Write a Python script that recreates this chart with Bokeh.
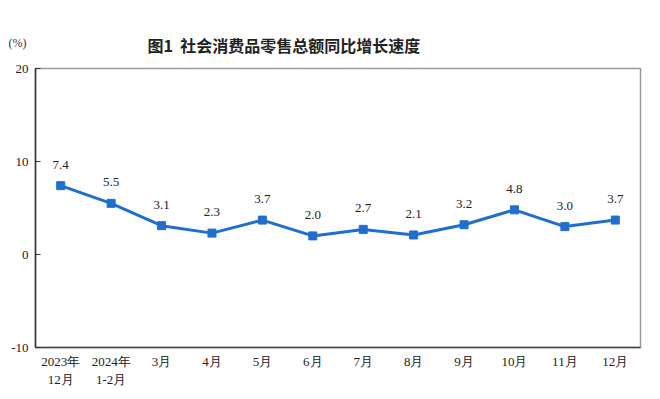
from bokeh.plotting import figure
from bokeh.models import FixedTicker, Range1d, ColumnDataSource, Title
from bokeh.embed import file_html
from bokeh.resources import INLINE
from bokeh.core.properties import value

months = ["2023年\n12月", "2024年\n1-2月", "3月", "4月", "5月", "6月", "7月", "8月", "9月", "10月", "11月", "12月"]
growth = [7.4, 5.5, 3.1, 2.3, 3.7, 2.0, 2.7, 2.1, 3.2, 4.8, 3.0, 3.7]
labels = ["7.4", "5.5", "3.1", "2.3", "3.7", "2.0", "2.7", "2.1", "3.2", "4.8", "3.0", "3.7"]
y_ticks = [-10, 0, 10, 20]
y_tick_text = {-10: "-10", 0: "0", 10: "10", 20: "20"}
title_text = "图1\u00a0\u00a0社会消费品零售总额同比增长速度"
unit_text = "(%)"

src = ColumnDataSource(dict(m=months, v=growth, t=labels))

p = figure(width=660, height=399, x_range=months, y_range=Range1d(-10, 20),
           output_backend="svg", toolbar_location=None,
           min_border_left=35, min_border_right=20, min_border_top=68, min_border_bottom=52)
p.background_fill_color = "white"
p.border_fill_color = "white"
p.outline_line_color = "#9a9a9a"
p.outline_line_width = 1.5
p.xgrid.visible = False
p.ygrid.visible = False

p.yaxis.ticker = FixedTicker(ticks=y_ticks)
p.yaxis.major_label_overrides = y_tick_text
p.yaxis.axis_line_color = "#333333"
p.yaxis.axis_line_width = 1.5
p.yaxis.major_tick_in = 5
p.yaxis.major_tick_out = 0
p.yaxis.minor_tick_line_color = None
p.yaxis.major_tick_line_color = "#333333"
p.yaxis.major_label_text_font = "Liberation Serif"
p.yaxis.major_label_text_font_size = "13px"
p.yaxis.major_label_text_color = "#222222"
p.yaxis.major_label_standoff = 7

p.xaxis.axis_line_color = "#444444"
p.xaxis.axis_line_width = 1.5
p.xaxis.major_tick_line_color = None
p.xaxis.minor_tick_line_color = None
p.xaxis.major_label_text_font = "Liberation Serif"
p.xaxis.major_label_text_font_size = "13px"
p.xaxis.major_label_text_color = "#222222"
p.xaxis.major_label_standoff = 0

p.line("m", "v", source=src, line_color="#1f6fd1", line_width=3)
p.scatter("m", "v", source=src, marker="square", size=8, fill_color="#1f6fd1", line_color="#1f6fd1")
p.text("m", "v", text="t", source=src, text_align="center", text_baseline="middle", y_offset=-21,
       text_font=value("Liberation Serif"), text_font_size="13px", text_color="#222222")

p.add_layout(Title(text=title_text, align="left", offset=112, standoff=24,
                   text_font="Noto Sans CJK SC", text_font_style="bold",
                   text_font_size="16px", text_color="#222222"), "above")
p.add_layout(Title(text=unit_text, align="left", offset=-27, standoff=-62,
                   text_font="Liberation Serif", text_font_style="normal",
                   text_font_size="12px", text_color="#333333"), "above")

open("out.html", "w").write(file_html(p, INLINE))
